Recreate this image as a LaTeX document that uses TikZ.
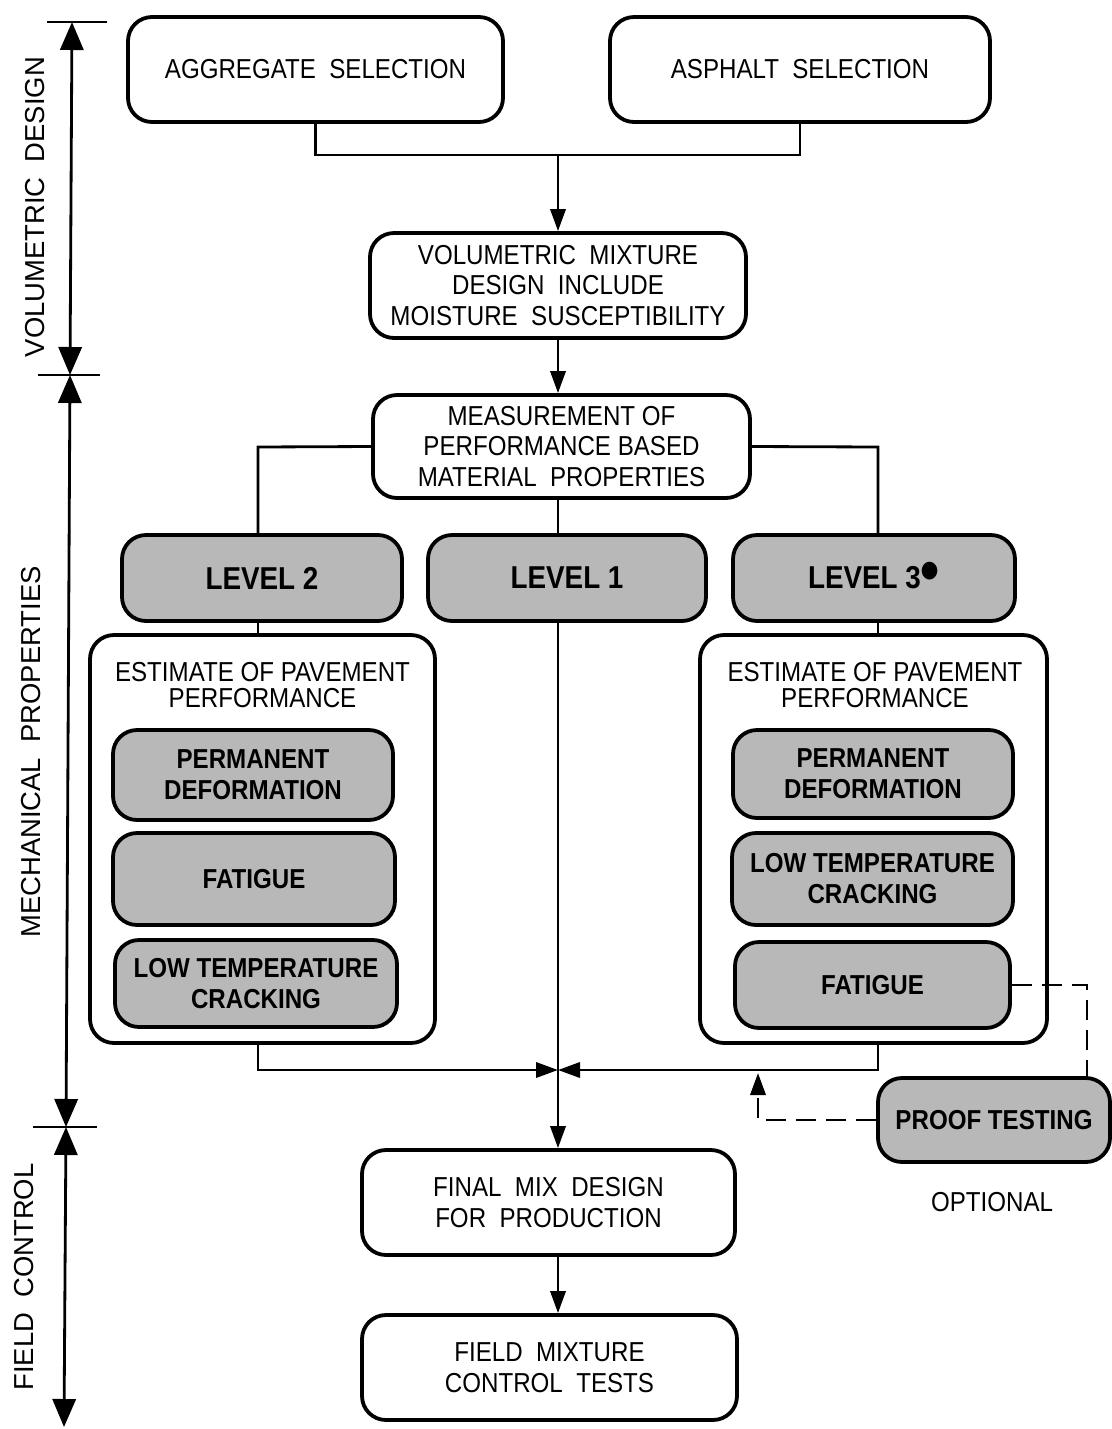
\documentclass[tikz,border=0pt]{standalone}
\usepackage{fontspec}
\setmainfont{Liberation Sans}
\newfontfamily\cond[FakeStretch=0.88]{Liberation Sans}
\usetikzlibrary{arrows.meta,calc}
\begin{document}
\begin{tikzpicture}[x=0.25mm,y=-0.25mm,
  box/.style={draw, line width=2.7pt, rounded corners=6mm, align=center, inner sep=0pt,
    font=\cond\fontsize{19.5}{22}\selectfont},
  sz/.style 2 args={minimum width=#1*0.25mm, minimum height=#2*0.25mm},
  gbox/.style={box, fill=black!28, font=\cond\bfseries\fontsize{19.5}{22}\selectfont},
  lvbox/.style={gbox, font=\cond\bfseries\fontsize{22.5}{24}\selectfont},
  plain/.style={align=center, inner sep=0pt, font=\cond\fontsize{19.5}{19}\selectfont},
  axlab/.style={rotate=90, inner sep=0pt, font=\fontsize{19.5}{22}\selectfont},
  conn/.style={line width=2pt},
  arr/.style={conn, -{Triangle[length=5.5mm,width=3.8mm]}},
  axarr/.style={line width=2pt, {Triangle[length=7mm,width=5.8mm]}-{Triangle[length=7mm,width=5.8mm]}},
  dashline/.style={line width=2pt, dash pattern=on 5mm off 2.5mm}
]
\useasboundingbox (0,0) rectangle (1111,1429);

% left axis
\coordinate (t0) at (72,22);
\coordinate (t1) at (70,375);
\coordinate (t2) at (66,1127);
\coordinate (t3) at (64,1427);
\draw[axarr] (t0) -- (t1);
\draw[axarr] (t1) -- (t2);
\draw[axarr] (t2) -- (t3);
\draw[line width=2pt] (47,22) -- (107,22);
\draw[line width=2pt] (38,375) -- (100,375);
\draw[line width=2pt] (33,1127) -- (97,1127);
\node[axlab] (labV) at (35,207) {VOLUMETRIC\ \ DESIGN};
\node[axlab] (labM) at (31,752) {MECHANICAL\ \ PROPERTIES};
\node[axlab] (labF) at (24,1277) {FIELD\ \ CONTROL};

% top boxes
\node[box, sz={375}{105}] (agg) at (315.5,69.5) {AGGREGATE\ \ SELECTION};
\node[box, sz={380}{105}] (asp) at (800,69.5) {ASPHALT\ \ SELECTION};
\node[box, sz={376}{105}] (vol) at (558,285.5) {VOLUMETRIC\ \ MIXTURE\\DESIGN\ \ INCLUDE\\MOISTURE\ \ SUSCEPTIBILITY};
\node[box, sz={377}{103}] (meas) at (561.5,446.5) {MEASUREMENT OF\\PERFORMANCE BASED\\MATERIAL\ \ PROPERTIES};

\coordinate (j1) at (558,155);
\draw[conn] (agg.south) |- (j1) -| (asp.south);
\draw[arr] (j1) -- (j1 |- vol.north);
\draw[arr] (vol.south -| j1) -- (j1 |- meas.north);

% levels
\node[lvbox, sz={280}{86}] (lv2) at (262,578) {LEVEL 2};
\node[lvbox, sz={278}{86}] (lv1) at (567,578) {LEVEL 1};
\node[lvbox, sz={282}{86}] (lv3) at (874,578) {LEVEL 3\smash{\raisebox{-0.6mm}{\fontsize{44}{44}\selectfont\textbullet}}};

\coordinate (bl) at (258,447);
\coordinate (br) at (878,447);
\draw[conn] (meas.west) -- (bl) -- (bl |- lv2.north);
\draw[conn] (meas.east) -- (br) -- (br |- lv3.north);
\draw[conn] (meas.south -| j1) -- (j1 |- lv1.north);

% estimate boxes
\node[box, sz={345}{408}] (estL) at (262.5,839) {};
\node[box, sz={347}{408}] (estR) at (873.5,839) {};
\node[plain] (estLt) at (262.5,685) {ESTIMATE OF PAVEMENT\\PERFORMANCE};
\node[plain] (estRt) at (875,685) {ESTIMATE OF PAVEMENT\\PERFORMANCE};

\draw[conn] (lv2.south -| bl) -- (bl |- estL.north);
\draw[conn] (lv3.south -| br) -- (br |- estR.north);

\node[gbox, sz={280}{90}] (pdL) at (253,775) {PERMANENT\\DEFORMATION};
\node[gbox, sz={282}{92}] (faL) at (254,879) {FATIGUE};
\node[gbox, sz={282}{87}] (ltL) at (256,983.5) {LOW TEMPERATURE\\CRACKING};
\node[gbox, sz={280}{88}] (pdR) at (873,774) {PERMANENT\\DEFORMATION};
\node[gbox, sz={281}{92}] (ltR) at (872.5,879) {LOW TEMPERATURE\\CRACKING};
\node[gbox, sz={275}{86}] (faR) at (872.5,985) {FATIGUE};

% junction
\coordinate (J) at (558,1070);
\draw[arr] (estL.south -| bl) |- (J);
\draw[arr] (estR.south -| br) |- (J);
\draw[conn] (lv1.south -| j1) -- (J);

% bottom boxes
\node[box, sz={373}{105}] (final) at (548.5,1202.5) {FINAL\ \ MIX\ \ DESIGN\\FOR\ \ PRODUCTION};
\node[box, sz={375}{105}] (field) at (549.5,1367.5) {FIELD\ \ MIXTURE\\CONTROL\ \ TESTS};
\draw[arr] (J) -- (J |- final.north);
\draw[arr] (final.south -| J) -- (J |- field.north);

% proof testing
\node[gbox, sz={232}{84}] (proof) at (994,1120) {PROOF TESTING};
\node[plain] (opt) at (992,1202) {OPTIONAL};
\coordinate (d1) at (1087,1078);
\coordinate (d2) at (758,1073);
\draw[dashline] (faR.east) -| (d1);
\draw[dashline, -{Triangle[length=5.5mm,width=3.8mm]}] (proof.west) -| (d2);
\end{tikzpicture}
\end{document}
